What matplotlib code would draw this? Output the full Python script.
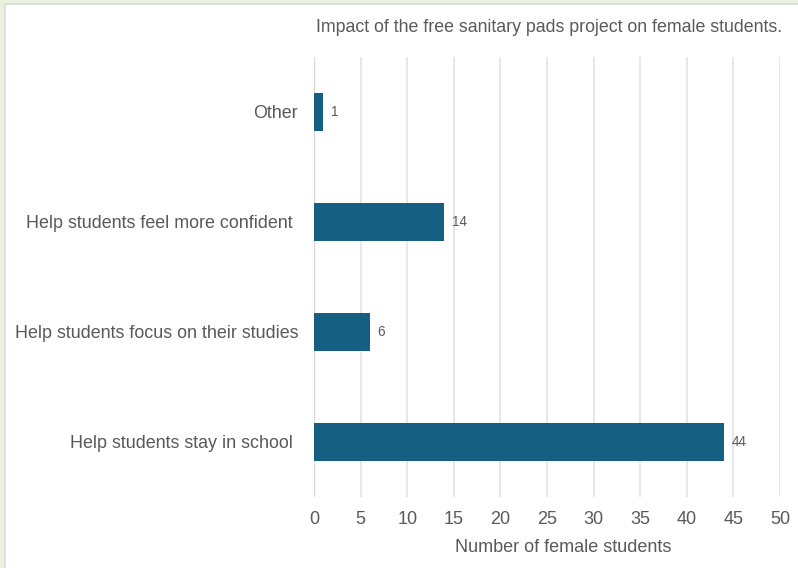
import matplotlib.pyplot as plt
from matplotlib.patches import Rectangle

plt.rcParams['font.family'] = ['Liberation Sans', 'DejaVu Sans']

categories = ["Help students stay in school ", "Help students focus on their studies",
              "Help students feel more confident ", "Other"]
values = [44, 6, 14, 1]
xticks = [0, 5, 10, 15, 20, 25, 30, 35, 40, 45, 50]

text_col = "#595959"
bar_col = "#156082"

fig = plt.figure(figsize=(7.98, 5.68), dpi=100, facecolor="#eaf1de")
# white panel with light border
fig.patches.append(Rectangle((5 / 798, -0.1), 1.1, 1 - 4 / 568 + 0.1, transform=fig.transFigure,
                             facecolor="white", edgecolor="#dcdcdc", linewidth=1.2, zorder=-5))

ax = fig.add_axes([314 / 798, 1 - 497 / 568, (780 - 314) / 798, (497 - 57) / 568])
ax.set_zorder(2)
ax.set_facecolor("none")
y = range(len(categories))
bars = ax.barh(y, values, height=0.35, color=bar_col, zorder=3)
for yi, v in zip(y, values):
    ax.text(v + 0.8, yi, str(v), va="center", ha="left", fontsize=9.8, color=text_col)

ax.set_xlim(0, 50)
ax.set_ylim(-0.5, 3.5)
ax.set_xticks(xticks)
ax.set_yticks(list(y))
ax.set_yticklabels(categories)
ax.tick_params(axis="y", length=0, pad=11.5, labelsize=12.9, labelcolor=text_col)
ax.tick_params(axis="x", length=0, pad=10, labelsize=13, labelcolor=text_col)
ax.grid(axis="x", color="#e3e3e3", linewidth=1.2, zorder=0)
for s in ax.spines.values():
    s.set_visible(False)
ax.axvline(0, color="#d9d9d9", linewidth=1, zorder=2)

fig.text(563 / 798, 1 - 548 / 568, "Number of female students",
         ha="center", va="center", fontsize=13, color=text_col)
fig.text(549 / 798, 1 - 28 / 568, "Impact of the free sanitary pads project on female students.",
         ha="center", va="center", fontsize=12.8, color=text_col)

fig.savefig("out.png", dpi=100, facecolor=fig.get_facecolor())
